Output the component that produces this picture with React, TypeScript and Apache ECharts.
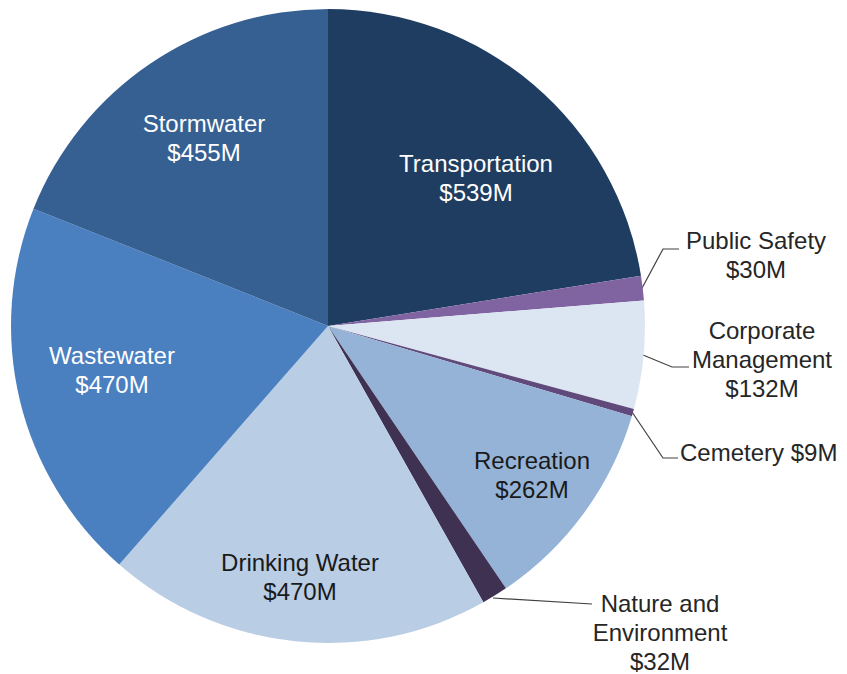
import React, { useEffect, useRef } from "react";
import * as echarts from "echarts";

const categories = [
  "Transportation",
  "Public Safety",
  "Corporate Management",
  "Cemetery",
  "Recreation",
  "Nature and Environment",
  "Drinking Water",
  "Wastewater",
  "Stormwater",
];
const values = [539, 30, 132, 9, 262, 32, 470, 470, 455];
const labelNames = [
  "Transportation",
  "Public Safety",
  "Corporate\nManagement",
  "Cemetery",
  "Recreation",
  "Nature and\nEnvironment",
  "Drinking Water",
  "Wastewater",
  "Stormwater",
];
const singleLine = [false, false, false, true, false, false, false, false, false];
const colors = [
  "#1F3D60",
  "#8064A2",
  "#DCE6F2",
  "#604A7B",
  "#95B3D7",
  "#3F3151",
  "#B9CDE5",
  "#4A7FC0",
  "#366092",
];
const textColors = [
  "#ffffff",
  "#262626",
  "#262626",
  "#262626",
  "#1a1a1a",
  "#262626",
  "#1a1a1a",
  "#ffffff",
  "#ffffff",
];
const insideLabel = [true, false, false, false, true, false, true, true, true];

// layout of labels (pixel anchors, not data)
const labelAnchors: number[][] = [
  [476, 178],
  [756, 255],
  [762, 359],
  [680, 452],
  [532, 475],
  [660, 632],
  [300, 577],
  [112, 370],
  [204, 138],
];
const labelAligns = ["center", "center", "center", "left", "center", "center", "center", "center", "center"];
const leaderPoints: (number[][] | null)[] = [
  null,
  [[641, 290], [663, 249], [679, 249]],
  [[643, 355], [672, 367], [689, 367]],
  [[632, 412], [663, 458], [678, 458]],
  null,
  [[493, 598], [592, 604]],
  null,
  null,
  null,
];

export default function App() {
  const ref = useRef<HTMLDivElement>(null);
  useEffect(() => {
    if (!ref.current) return;
    const chart = echarts.init(ref.current, undefined, { renderer: "svg" });
    const data = categories.map((name, i) => ({
      name,
      value: values[i],
      itemStyle: { color: colors[i] },
      label: {
        show: true,
        position: insideLabel[i] ? "inside" : "outside",
        color: textColors[i],
        align: labelAligns[i],
        formatter: () =>
          singleLine[i] ? `${labelNames[i]} $${values[i]}M` : `${labelNames[i]}\n$${values[i]}M`,
      },
      labelLine: {
        show: !insideLabel[i],
        lineStyle: { color: "#404040", width: 1.2 },
      },
    }));
    chart.setOption({
      animation: false,
      backgroundColor: "#ffffff",
      series: [
        {
          type: "pie",
          center: [328, 326],
          radius: [0, 317],
          startAngle: 90,
          clockwise: true,
          avoidLabelOverlap: false,
          itemStyle: { borderWidth: 0 },
          label: {
            fontFamily: "Liberation Sans, Arial, sans-serif",
            fontSize: 24,
            lineHeight: 29,
          },
          labelLine: { show: false },
          labelLayout: (params: any) => {
            const i = params.dataIndex;
            const a = labelAnchors[i];
            const res: any = {
              x: a[0],
              y: a[1],
              align: labelAligns[i],
              verticalAlign: "middle",
            };
            if (leaderPoints[i]) res.labelLinePoints = leaderPoints[i];
            return res;
          },
          data,
        },
      ],
    });
    return () => chart.dispose();
  }, []);
  return (
    <div
      ref={ref}
      style={{ position: "fixed", left: 0, top: 0, width: 847, height: 674 }}
    />
  );
}
